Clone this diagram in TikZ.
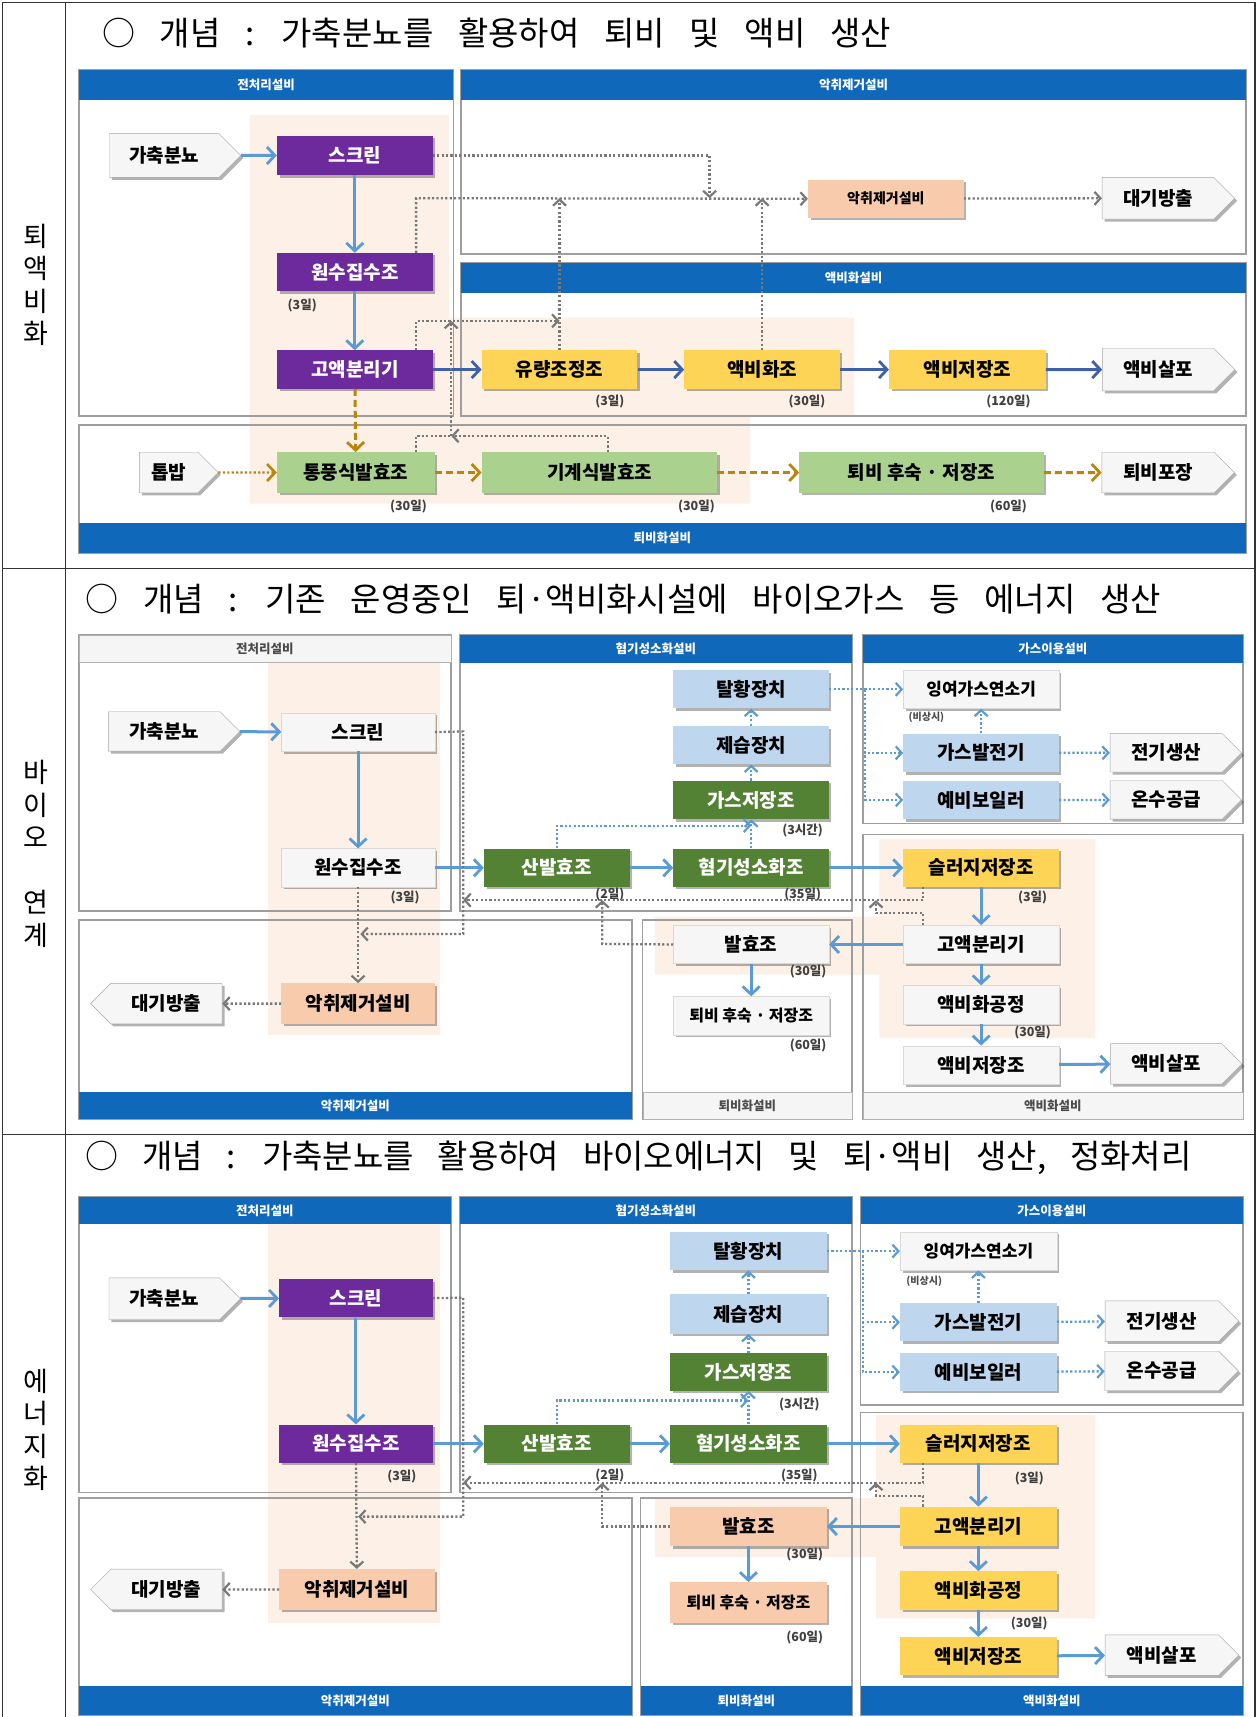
\documentclass[tikz,border=0pt]{standalone}
\usepackage{fontspec}
\setmainfont{Noto Sans CJK KR}
\usetikzlibrary{shapes.symbols,shadows,arrows.meta}
\definecolor{cBlue}{RGB}{16,104,186}
\definecolor{cPur}{RGB}{108,42,156}
\definecolor{cYel}{RGB}{253,212,86}
\definecolor{cLgr}{RGB}{170,210,142}
\definecolor{cDgr}{RGB}{84,130,53}
\definecolor{cLbl}{RGB}{190,214,238}
\definecolor{cPch}{RGB}{248,203,173}
\definecolor{cBg}{RGB}{253,241,231}
\definecolor{cArr}{RGB}{91,155,213}
\definecolor{cArrD}{RGB}{62,96,168}
\definecolor{cOl}{RGB}{184,134,11}
\definecolor{cGr}{RGB}{120,120,120}
\definecolor{cWh}{RGB}{246,246,246}
\newcommand\bx[6]{\node[#6,minimum width={(#4-#2)*1.09495pt},minimum height={(#5-#3)*1.09495pt}] (#1) at ({(#2+#4)/2},{(#3+#5)/2})}
\begin{document}
\begin{tikzpicture}[x=1.09495pt,y=-1.09495pt,
  shd/.style={drop shadow={shadow xshift=2.5pt,shadow yshift=-2.5pt,fill=black,opacity=.3}},
  bxb/.style={inner sep=0pt,shd,font=\bfseries\fontsize{19}{19}\selectfont},
  bPur/.style={bxb,fill=cPur,text=white},
  bYel/.style={bxb,fill=cYel,text=black},
  bLgr/.style={bxb,fill=cLgr,text=black},
  bDgr/.style={bxb,fill=cDgr,text=white},
  bLbl/.style={bxb,fill=cLbl,text=black},
  bPch/.style={bxb,fill=cPch,text=black},
  bWht/.style={bxb,fill=cWh,draw=black!15,text=black},
  sml/.style={font=\bfseries\fontsize{17}{17}\selectfont},
  sig/.style={bxb,shape=signal,signal to=east,fill=cWh,draw=black!35,text=black,font=\bfseries\fontsize{19}{19}\selectfont},
  sigL/.style={sig,signal to=west},
  hB/.style={inner sep=0pt,fill=cBlue,text=white,font=\bfseries\fontsize{12.5}{12.5}\selectfont},
  hG/.style={inner sep=0pt,fill=black!4,draw=black!30,text=black!70,font=\bfseries\fontsize{12.5}{12.5}\selectfont},
  pnl/.style={draw=black!38,line width=1.4pt},
  dl/.style={inner sep=0pt,text=black!75,font=\bfseries\fontsize{12.5}{12.5}\selectfont},
  dls/.style={inner sep=0pt,text=black!70,font=\bfseries\fontsize{10}{10}\selectfont},
  ttl/.style={inner sep=0pt,anchor=west,font=\fontsize{33}{33}\selectfont},
  rowl/.style={inner sep=0pt,align=center,font=\fontsize{27}{32.5}\selectfont},
  barr/.style={draw=cArr,line width=3pt,-{Straight Barb[length=8pt,width=17pt,line width=2.8pt]}},
  darr/.style={draw=cArrD,line width=3pt,-{Straight Barb[length=8pt,width=17pt,line width=2.8pt]}},
  gdot/.style={draw=cGr,line width=2.3pt,dash pattern=on 2.2pt off 2.2pt,-{Straight Barb[length=6pt,width=13pt,line width=2.2pt]}},
  gdotn/.style={draw=cGr,line width=2.3pt,dash pattern=on 2.2pt off 2.2pt},
  bdot/.style={draw=cArr,line width=2.3pt,dash pattern=on 2.2pt off 2.2pt,-{Straight Barb[length=6pt,width=13pt,line width=2.2pt]}},
  odash/.style={draw=cOl,line width=3pt,dash pattern=on 7pt off 4pt,-{Straight Barb[length=8pt,width=17pt,line width=2.8pt]}},
  odot/.style={draw=cOl,line width=2.3pt,dash pattern=on 2.2pt off 2.2pt,-{Straight Barb[length=8pt,width=17pt,line width=2.6pt]}},
  tbl/.style={draw=black!80,line width=1.3pt}]
\useasboundingbox (0,0) rectangle (1148,1568);
\fill[white] (0,0) rectangle (1148,1568);
% ---------- table ----------
\draw[tbl] (2,2) -- (1146,2);
\draw[tbl] (2,2) -- (2,1568);
\draw[tbl] (60,2) -- (60,1568);
\draw[tbl] (1146,2) -- (1146,1568);
\draw[tbl] (2,519) -- (1146,519);
\draw[tbl] (2,1036) -- (1146,1036);
\node[rowl] (r1) at (33,260) {퇴\\액\\비\\화};
\node[rowl] (r2) at (33,780) {바\\이\\오\\~\\연\\계};
\node[rowl] (r3) at (33,1306) {에\\너\\지\\화};
\node[ttl] (t1) at (93,30) {\spaceskip=0.75em\relax ○ 개념 : 가축분뇨를 활용하여 퇴비 및 액비 생산};
\node[ttl] (t2) at (78,547) {\spaceskip=0.75em\relax ○ 개념 : 기존 운영중인 퇴·액비화시설에 바이오가스 등 에너지 생산};
\node[ttl] (t3) at (78,1057) {\spaceskip=0.72em\relax ○ 개념 : 가축분뇨를 활용하여 바이오에너지 및 퇴·액비 생산, 정화처리};
% =================== SECTION 1 ===================
\fill[cBg] (228,105) -- (410,105) -- (410,290) -- (780,290) -- (780,380) -- (685,380) -- (685,460) -- (228,460) -- cycle;
\draw[pnl] (72,64) rectangle (414,380);
\draw[pnl] (421,64) rectangle (1138,232);
\draw[pnl] (421,240) rectangle (1138,380);
\draw[pnl] (72,388) rectangle (1138,505);
\bx{h1a}{72}{64}{414}{91}{hB}{전처리설비};
\bx{h1b}{421}{64}{1138}{91}{hB}{악취제거설비};
\bx{h1c}{421}{240}{1138}{268}{hB}{액비화설비};
\bx{h1d}{72}{478}{1138}{505}{hB}{퇴비화설비};
\bx{s1feed}{90}{122}{210}{162}{sig}{가축분뇨};
\bx{s1scr}{253}{124}{395}{160}{bPur}{스크린};
\bx{s1raw}{253}{231}{395}{266}{bPur}{원수집수조};
\bx{s1sep}{253}{320}{395}{355}{bPur}{고액분리기};
\bx{s1flow}{440}{320}{582}{355}{bYel}{유량조정조};
\bx{s1liq}{625}{320}{767}{355}{bYel}{액비화조};
\bx{s1lst}{812}{320}{955}{355}{bYel}{액비저장조};
\bx{s1spr}{997}{318}{1118}{357}{sig}{액비살포};
\bx{s1odor}{738}{164}{880}{199}{bPch,font=\bfseries\fontsize{14}{14}\selectfont}{악취제거설비};
\bx{s1air}{997}{162}{1118}{200}{sig}{대기방출};
\bx{s1saw}{118}{413}{190}{450}{sig}{톱밥};
\bx{s1aer}{253}{413}{397}{450}{bLgr}{통풍식발효조};
\bx{s1mech}{440}{413}{655}{450}{bLgr}{기계식발효조};
\bx{s1cure}{730}{413}{953}{450}{bLgr}{퇴비 후숙 · 저장조};
\bx{s1pack}{997}{413}{1118}{450}{sig}{퇴비포장};
\node[dl] (s1l1) at (276,279) {(3일)};
\node[dl] (s1l2) at (557,367) {(3일)};
\node[dl] (s1l3) at (737,367) {(30일)};
\node[dl] (s1l4) at (921,367) {(120일)};
\node[dl] (s1l5) at (373,463) {(30일)};
\node[dl] (s1l6) at (636,463) {(30일)};
\node[dl] (s1l7) at (921,463) {(60일)};
\draw[barr] (s1feed) -- (s1scr);
\draw[barr] (s1scr) -- (s1raw);
\draw[barr] (s1raw) -- (s1sep);
\draw[darr] (s1sep) -- (s1flow);
\draw[darr] (s1flow) -- (s1liq);
\draw[darr] (s1liq) -- (s1lst);
\draw[darr] (s1lst) -- (s1spr);
\draw[odash] (s1sep) -- (s1aer);
\draw[odot] (s1saw) -- (s1aer);
\draw[odash] (s1aer) -- (s1mech);
\draw[odash] (s1mech) -- (s1cure);
\draw[odash] (s1cure) -- (s1pack);
\coordinate (s1j) at (648,181);
\coordinate (s1a) at (380,181);
\coordinate (s1c) at (380,293);
\coordinate (s1d) at (412,398);
\coordinate (s1e) at (412,293);
\coordinate (s1f) at (555,398);
\draw[gdot] (s1scr.east) -| (s1j);
\draw[gdot] (s1raw.north -| s1a) -- (s1a) -- (s1odor.west);
\draw[gdot] (s1flow.north) -- (s1flow.north |- s1a);
\draw[gdot] (s1liq.north) -- (s1liq.north |- s1a);
\draw[gdot] (s1sep.north -| s1c) -- (s1c) -- (s1flow.north |- s1c);
\draw[gdotn] (s1aer.north -| s1c) |- (s1d);
\draw[gdot] (s1mech.north -| s1f) -- (s1f) -- (s1d);
\draw[gdot] (s1d) -- (s1e);
\draw[gdot] (s1odor) -- (s1air);
% =================== SECTION 2 ===================
\fill[cBg] (245,605) rectangle (402,945);
\fill[cBg] (598,837) -- (803,837) -- (803,766) -- (1000,766) -- (1000,948) -- (803,948) -- (803,890) -- (598,890) -- cycle;
\draw[pnl] (72,580) rectangle (412,832);
\draw[pnl] (420,580) rectangle (778,832);
\draw[pnl] (788,580) rectangle (1135,752);
\draw[pnl] (788,762) rectangle (1135,1022);
\draw[pnl] (72,840) rectangle (577,1022);
\draw[pnl] (587,840) rectangle (778,1022);
\bx{h2a}{72}{580}{412}{605}{hG}{전처리설비};
\bx{h2b}{420}{580}{778}{605}{hB}{혐기성소화설비};
\bx{h2c}{788}{580}{1135}{605}{hB}{가스이용설비};
\bx{h2d}{72}{997}{577}{1022}{hB}{악취제거설비};
\bx{h2e}{587}{997}{778}{1022}{hG}{퇴비화설비};
\bx{h2f}{788}{997}{1135}{1022}{hG}{액비화설비};
\bx{s2feed}{90}{650}{210}{686}{sig}{가축분뇨};
\bx{s2scr}{257}{651}{397}{686}{bWht}{스크린};
\bx{s2raw}{257}{775}{397}{810}{bWht}{원수집수조};
\bx{s2odor}{257}{898}{397}{935}{bPch}{악취제거설비};
\bx{s2air}{92}{898}{212}{935}{sigL}{대기방출};
\bx{s2acid}{442}{775}{575}{810}{bDgr}{산발효조};
\bx{s2ad}{615}{775}{757}{810}{bDgr}{혐기성소화조};
\bx{s2gas}{615}{713}{757}{748}{bDgr}{가스저장조};
\bx{s2dehum}{615}{663}{757}{698}{bLbl}{제습장치};
\bx{s2desulf}{615}{612}{757}{647}{bLbl}{탈황장치};
\bx{s2flare}{825}{612}{967}{647}{bWht,sml}{잉여가스연소기};
\bx{s2gen}{825}{670}{967}{705}{bLbl}{가스발전기};
\bx{s2boil}{825}{713}{967}{748}{bLbl}{예비보일러};
\bx{s2elec}{1005}{670}{1125}{705}{sig}{전기생산};
\bx{s2hot}{1005}{713}{1125}{748}{sig}{온수공급};
\bx{s2sl}{825}{775}{967}{810}{bYel}{슬러지저장조};
\bx{s2sep}{825}{845}{967}{880}{bWht}{고액분리기};
\bx{s2ferm}{615}{845}{757}{880}{bWht}{발효조};
\bx{s2cure}{615}{910}{757}{945}{bWht,font=\bfseries\fontsize{16}{16}\selectfont}{퇴비 후숙 · 저장조};
\bx{s2lp}{825}{900}{967}{935}{bWht}{액비화공정};
\bx{s2lst}{825}{955}{967}{990}{bWht}{액비저장조};
\bx{s2spr}{1005}{953}{1125}{990}{sig}{액비살포};
\node[dl] (s2l1) at (370,820) {(3일)};
\node[dl] (s2l2) at (557,817) {(2일)};
\node[dl] (s2l3) at (733,817) {(35일)};
\node[dl] (s2l4) at (733,758) {(3시간)};
\node[dls] (s2l5) at (846,655) {(비상시)};
\node[dl] (s2l6) at (943,820) {(3일)};
\node[dl] (s2l7) at (738,887) {(30일)};
\node[dl] (s2l8) at (738,955) {(60일)};
\node[dl] (s2l9) at (943,943) {(30일)};
\draw[barr] (s2feed) -- (s2scr);
\draw[barr] (s2scr) -- (s2raw);
\draw[barr] (s2raw) -- (s2acid);
\draw[barr] (s2acid) -- (s2ad);
\draw[barr] (s2ad) -- (s2sl);
\draw[barr] (s2sl) -- (s2sep);
\draw[barr] (s2sep) -- (s2ferm);
\draw[barr] (s2sep) -- (s2lp);
\draw[barr] (s2lp) -- (s2lst);
\draw[barr] (s2lst) -- (s2spr);
\draw[barr] (s2ferm) -- (s2cure);
\draw[bdot] (s2ad) -- (s2gas);
\draw[bdot] (s2gas) -- (s2dehum);
\draw[bdot] (s2dehum) -- (s2desulf);
\draw[bdot] (s2desulf) -- (s2flare);
\draw[bdot] (s2gen) -- (s2flare);
\draw[bdot] (s2gen) -- (s2elec);
\draw[bdot] (s2boil) -- (s2hot);
\coordinate (s2g) at (508.5,754);
\draw[bdot] (s2acid.north) -- (s2g) -- (s2g -| s2ad.north);
\coordinate (s2v) at (790,629.5);
\draw[bdot] (s2v) |- (s2gen.west);
\draw[bdot] (s2v) |- (s2boil.west);
\coordinate (s2p) at (423,668);
\coordinate (s2q) at (423,853);
\coordinate (s2r) at (329,853);
\draw[gdot] (s2scr.east) -- (s2p) -- (s2q) -- (s2r);
\draw[gdot] (s2raw) -- (s2odor);
\draw[gdot] (s2odor) -- (s2air);
\coordinate (s2s) at (843,822);
\coordinate (s2t) at (423,822);
\draw[gdot] (s2sl.south -| s2s) -- (s2s) -- (s2t);
\coordinate (s2u) at (843,834);
\coordinate (s2w) at (800,834);
\draw[gdot] (s2sep.north -| s2u) -- (s2u) -- (s2w) -- (s2w |- s2s);
\coordinate (s2x) at (550,862);
\draw[gdot] (s2ferm.west) -- (s2x) -- (s2x |- s2s);
% =================== SECTION 3 ===================
\fill[cBg] (245,1118) rectangle (402,1482);
\fill[cBg] (598,1368) -- (800,1368) -- (800,1292) -- (1000,1292) -- (1000,1478) -- (800,1478) -- (800,1422) -- (598,1422) -- cycle;
\draw[pnl] (72,1093) rectangle (412,1363);
\draw[pnl] (420,1093) rectangle (778,1363);
\draw[pnl] (786,1093) rectangle (1135,1283);
\draw[pnl] (786,1290) rectangle (1135,1566);
\draw[pnl] (72,1368) rectangle (577,1566);
\draw[pnl] (585,1368) rectangle (778,1566);
\bx{h3a}{72}{1093}{412}{1118}{hB}{전처리설비};
\bx{h3b}{420}{1093}{778}{1118}{hB}{혐기성소화설비};
\bx{h3c}{786}{1093}{1135}{1118}{hB}{가스이용설비};
\bx{h3d}{72}{1540}{577}{1566}{hB}{악취제거설비};
\bx{h3e}{585}{1540}{778}{1566}{hB}{퇴비화설비};
\bx{h3f}{786}{1540}{1135}{1566}{hB}{액비화설비};
\bx{s3feed}{90}{1167}{210}{1205}{sig}{가축분뇨};
\bx{s3scr}{255}{1168}{395}{1203}{bPur}{스크린};
\bx{s3raw}{255}{1301}{395}{1336}{bPur}{원수집수조};
\bx{s3odor}{255}{1433}{397}{1470}{bPch}{악취제거설비};
\bx{s3air}{92}{1433}{212}{1470}{sigL}{대기방출};
\bx{s3acid}{442}{1301}{575}{1336}{bDgr}{산발효조};
\bx{s3ad}{612}{1301}{755}{1336}{bDgr}{혐기성소화조};
\bx{s3gas}{612}{1236}{755}{1270}{bDgr}{가스저장조};
\bx{s3dehum}{612}{1182}{755}{1218}{bLbl}{제습장치};
\bx{s3desulf}{612}{1125}{755}{1160}{bLbl}{탈황장치};
\bx{s3flare}{822}{1125}{965}{1160}{bWht,sml}{잉여가스연소기};
\bx{s3gen}{822}{1190}{965}{1225}{bLbl}{가스발전기};
\bx{s3boil}{822}{1236}{965}{1270}{bLbl}{예비보일러};
\bx{s3elec}{1000}{1188}{1122}{1225}{sig}{전기생산};
\bx{s3hot}{1000}{1234}{1122}{1270}{sig}{온수공급};
\bx{s3sl}{822}{1301}{965}{1336}{bYel}{슬러지저장조};
\bx{s3sep}{822}{1376}{965}{1412}{bYel}{고액분리기};
\bx{s3lp}{822}{1435}{965}{1470}{bYel}{액비화공정};
\bx{s3lst}{822}{1495}{965}{1530}{bYel}{액비저장조};
\bx{s3spr}{1000}{1493}{1122}{1530}{sig}{액비살포};
\bx{s3ferm}{612}{1376}{755}{1412}{bPch}{발효조};
\bx{s3cure}{612}{1445}{755}{1482}{bPch,font=\bfseries\fontsize{16}{16}\selectfont}{퇴비 후숙 · 저장조};
\node[dl] (s3l1) at (367,1348) {(3일)};
\node[dl] (s3l2) at (557,1347) {(2일)};
\node[dl] (s3l3) at (730,1347) {(35일)};
\node[dl] (s3l4) at (730,1283) {(3시간)};
\node[dls] (s3l5) at (844,1170) {(비상시)};
\node[dl] (s3l6) at (940,1350) {(3일)};
\node[dl] (s3l7) at (735,1420) {(30일)};
\node[dl] (s3l8) at (735,1495) {(60일)};
\node[dl] (s3l9) at (940,1483) {(30일)};
\draw[barr] (s3feed) -- (s3scr);
\draw[barr] (s3scr) -- (s3raw);
\draw[barr] (s3raw) -- (s3acid);
\draw[barr] (s3acid) -- (s3ad);
\draw[barr] (s3ad) -- (s3sl);
\draw[barr] (s3sl) -- (s3sep);
\draw[barr] (s3sep) -- (s3ferm);
\draw[barr] (s3sep) -- (s3lp);
\draw[barr] (s3lp) -- (s3lst);
\draw[barr] (s3lst) -- (s3spr);
\draw[barr] (s3ferm) -- (s3cure);
\draw[bdot] (s3ad) -- (s3gas);
\draw[bdot] (s3gas) -- (s3dehum);
\draw[bdot] (s3dehum) -- (s3desulf);
\draw[bdot] (s3desulf) -- (s3flare);
\draw[bdot] (s3gen) -- (s3flare);
\draw[bdot] (s3gen) -- (s3elec);
\draw[bdot] (s3boil) -- (s3hot);
\coordinate (s3g) at (508.5,1279);
\draw[bdot] (s3acid.north) -- (s3g) -- (s3g -| s3ad.north);
\coordinate (s3v) at (788,1142.5);
\draw[bdot] (s3v) |- (s3gen.west);
\draw[bdot] (s3v) |- (s3boil.west);
\coordinate (s3p) at (423,1185);
\coordinate (s3q) at (423,1385);
\coordinate (s3r) at (327,1385);
\draw[gdot] (s3scr.east) -- (s3p) -- (s3q) -- (s3r);
\draw[gdot] (s3raw) -- (s3odor);
\draw[gdot] (s3odor) -- (s3air);
\coordinate (s3s) at (843,1354);
\coordinate (s3t) at (423,1354);
\draw[gdot] (s3sl.south -| s3s) -- (s3s) -- (s3t);
\coordinate (s3u) at (843,1366);
\coordinate (s3w) at (800,1366);
\draw[gdot] (s3sep.north -| s3u) -- (s3u) -- (s3w) -- (s3w |- s3s);
\coordinate (s3x) at (550,1394);
\draw[gdot] (s3ferm.west) -- (s3x) -- (s3x |- s3s);
\end{tikzpicture}
\end{document}
